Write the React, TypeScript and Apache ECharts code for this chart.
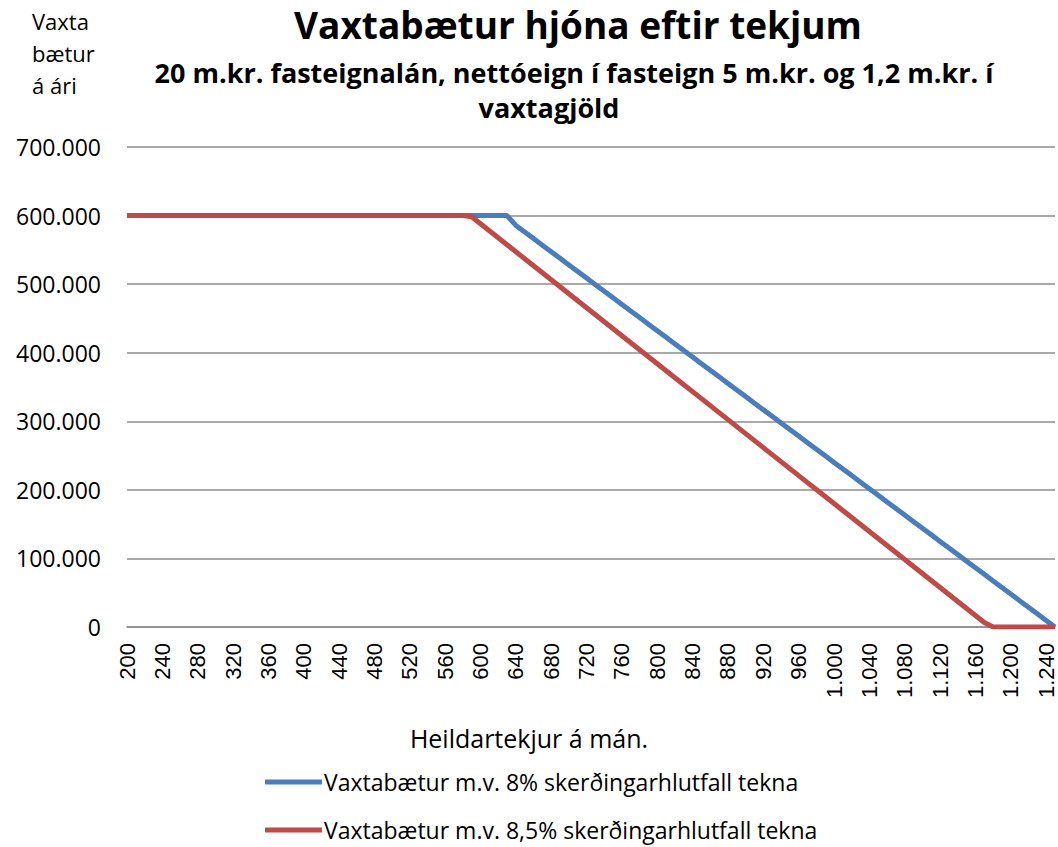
import React, { useEffect, useRef } from "react";
import * as echarts from "echarts";

const categories: number[] = [
  200, 210, 220, 230, 240, 250, 260, 270, 280, 290,
  300, 310, 320, 330, 340, 350, 360, 370, 380, 390,
  400, 410, 420, 430, 440, 450, 460, 470, 480, 490,
  500, 510, 520, 530, 540, 550, 560, 570, 580, 590,
  600, 610, 620, 630, 640, 650, 660, 670, 680, 690,
  700, 710, 720, 730, 740, 750, 760, 770, 780, 790,
  800, 810, 820, 830, 840, 850, 860, 870, 880, 890,
  900, 910, 920, 930, 940, 950, 960, 970, 980, 990,
  1000, 1010, 1020, 1030, 1040, 1050, 1060, 1070, 1080, 1090,
  1100, 1110, 1120, 1130, 1140, 1150, 1160, 1170, 1180, 1190,
  1200, 1210, 1220, 1230, 1240, 1250,
];

const blueName = "Vaxtabætur m.v. 8% skerðingarhlutfall tekna";
const redName = "Vaxtabætur m.v. 8,5% skerðingarhlutfall tekna";

const blueValues: number[] = [
  600000, 600000, 600000, 600000, 600000, 600000, 600000, 600000, 600000, 600000,
  600000, 600000, 600000, 600000, 600000, 600000, 600000, 600000, 600000, 600000,
  600000, 600000, 600000, 600000, 600000, 600000, 600000, 600000, 600000, 600000,
  600000, 600000, 600000, 600000, 600000, 600000, 600000, 600000, 600000, 600000,
  600000, 600000, 600000, 600000, 585600, 576000, 566400, 556800, 547200, 537600,
  528000, 518400, 508800, 499200, 489600, 480000, 470400, 460800, 451200, 441600,
  432000, 422400, 412800, 403200, 393600, 384000, 374400, 364800, 355200, 345600,
  336000, 326400, 316800, 307200, 297600, 288000, 278400, 268800, 259200, 249600,
  240000, 230400, 220800, 211200, 201600, 192000, 182400, 172800, 163200, 153600,
  144000, 134400, 124800, 115200, 105600, 96000, 86400, 76800, 67200, 57600,
  48000, 38400, 28800, 19200, 9600, 0,
];

const redValues: number[] = [
  600000, 600000, 600000, 600000, 600000, 600000, 600000, 600000, 600000, 600000,
  600000, 600000, 600000, 600000, 600000, 600000, 600000, 600000, 600000, 600000,
  600000, 600000, 600000, 600000, 600000, 600000, 600000, 600000, 600000, 600000,
  600000, 600000, 600000, 600000, 600000, 600000, 600000, 600000, 600000, 598200,
  588000, 577800, 567600, 557400, 547200, 537000, 526800, 516600, 506400, 496200,
  486000, 475800, 465600, 455400, 445200, 435000, 424800, 414600, 404400, 394200,
  384000, 373800, 363600, 353400, 343200, 333000, 322800, 312600, 302400, 292200,
  282000, 271800, 261600, 251400, 241200, 231000, 220800, 210600, 200400, 190200,
  180000, 169800, 159600, 149400, 139200, 129000, 118800, 108600, 98400, 88200,
  78000, 67800, 57600, 47400, 37200, 27000, 16800, 6600, 0, 0,
  0, 0, 0, 0, 0, 0,
];

const fmt = (v: number | string) => String(v).replace(/\B(?=(\d{3})+(?!\d))/g, ".");

const FONT = "'Open Sans', Lato, sans-serif";

const legendBase = {
  orient: "horizontal",
  left: 265,
  padding: 0,
  itemWidth: 57,
  itemHeight: 5,
  icon: "rect",
  textStyle: { fontFamily: FONT, fontSize: 23, lineHeight: 24, color: "#000", padding: [0, 0, 0, -3] },
};

export default function App() {
  const ref = useRef<HTMLDivElement>(null);
  useEffect(() => {
    if (!ref.current) return;
    const chart = echarts.init(ref.current, null, { renderer: "svg" });
    chart.setOption({
      animation: false,
      backgroundColor: "#ffffff",
      graphic: [
        {
          type: "text",
          x: 578,
          y: 24,
          style: {
            text: "Vaxtabætur hjóna eftir tekjum",
            font: `bold 37px ${FONT}`,
            fill: "#000",
            align: "center",
            verticalAlign: "middle",
          },
        },
        {
          type: "text",
          left: 32,
          top: 5,
          style: {
            text: "Vaxta\nbætur\ná ári",
            font: `22px ${FONT}`,
            lineHeight: 32,
            fill: "#000",
          },
        },
        {
          type: "text",
          x: 574,
          y: 72,
          style: {
            text: "20 m.kr. fasteignalán, nettóeign í fasteign 5 m.kr. og 1,2 m.kr. í",
            font: `bold 27px ${FONT}`,
            fill: "#000",
            align: "center",
            verticalAlign: "middle",
          },
        },
        {
          type: "text",
          x: 549,
          y: 107,
          style: {
            text: "vaxtagjöld",
            font: `bold 27px ${FONT}`,
            fill: "#000",
            align: "center",
            verticalAlign: "middle",
          },
        },
        {
          type: "text",
          x: 529,
          y: 738,
          style: {
            text: "Heildartekjur á mán.",
            font: `25px ${FONT}`,
            fill: "#000",
            align: "center",
            verticalAlign: "middle",
          },
        },
      ],
      legend: [
        { ...legendBase, top: 770, data: [blueName] },
        { ...legendBase, top: 818, data: [redName] },
      ],
      grid: { left: 127, right: 3, top: 147, bottom: 220, containLabel: false },
      xAxis: {
        type: "category",
        data: categories,
        boundaryGap: false,
        axisLine: { lineStyle: { color: "#8c8c8c", width: 1.5 } },
        axisTick: { show: false },
        axisLabel: {
          interval: 3,
          rotate: 90,
          margin: 16,
          fontFamily: "'Liberation Sans', Arial, sans-serif",
          fontSize: 22,
          color: "#000",
          formatter: (v: string) => fmt(v),
        },
      },
      yAxis: {
        type: "value",
        min: 0,
        max: 700000,
        interval: 100000,
        axisLine: { show: false },
        axisTick: { show: false },
        splitLine: { lineStyle: { color: "#8c8c8c", width: 1.5 } },
        axisLabel: {
          margin: 26,
          fontFamily: FONT,
          fontSize: 23,
          color: "#000",
          formatter: (v: number) => fmt(v),
        },
      },
      series: [
        {
          name: blueName,
          type: "line",
          data: blueValues,
          showSymbol: false,
          symbol: "none",
          itemStyle: { color: "#4A7EBB" },
          lineStyle: { color: "#4A7EBB", width: 5 },
        },
        {
          name: redName,
          type: "line",
          data: redValues,
          showSymbol: false,
          symbol: "none",
          itemStyle: { color: "#BE4B48" },
          lineStyle: { color: "#BE4B48", width: 5 },
        },
      ],
    });
    return () => chart.dispose();
  }, []);
  return (
    <div
      ref={ref}
      style={{ position: "fixed", left: 0, top: 0, width: 1058, height: 847 }}
    />
  );
}
